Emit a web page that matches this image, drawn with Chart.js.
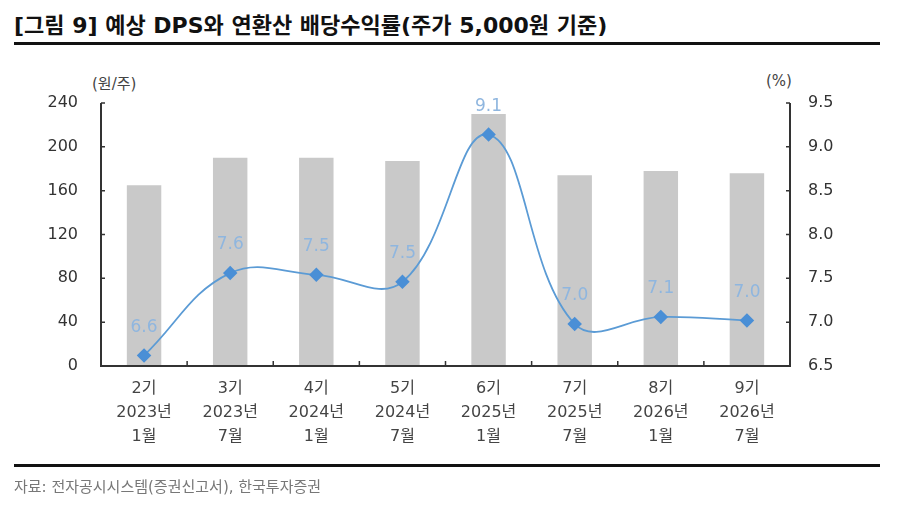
<!DOCTYPE html>
<html>
<head>
<meta charset="utf-8">
<script src="https://cdn.jsdelivr.net/npm/chart.js@4.4.1/dist/chart.umd.min.js"></script>
<style>
  body { margin: 0; background: #fff; }
  #wrap { position: relative; width: 900px; height: 517px; overflow: hidden; }
  #title {
    position: absolute; left: 14px; top: 7px; line-height: 26px;
    font: bold 22px "DejaVu Sans", "Noto Sans CJK KR", sans-serif;
    color: #111; white-space: nowrap;
  }
  .rule { position: absolute; left: 14px; width: 866px; height: 3px; background: #111; }
  #source {
    position: absolute; left: 14px; top: 475px; line-height: 20px;
    font: 15px "DejaVu Sans", "Noto Sans CJK KR", sans-serif; color: #777; white-space: nowrap;
  }
  .unit {
    position: absolute; top: 72px;
    font: 15px "DejaVu Sans", "Noto Sans CJK KR", sans-serif; color: #444;
  }
  #chart { position: absolute; left: 0; top: 0; }
</style>
</head>
<body>
<div id="wrap">
  <div id="title">[그림 9] 예상 DPS와 연환산 배당수익률(주가 5,000원 기준)</div>
  <div class="rule" style="top:42px"></div>
  <div class="unit" style="left:92px">(원/주)</div>
  <div class="unit" style="left:766px">(%)</div>
  <canvas id="chart" width="900" height="517"></canvas>
  <div class="rule" style="top:464px"></div>
  <div id="source">자료: 전자공시시스템(증권신고서), 한국투자증권</div>
</div>
<script>
// categories (회차 / 연도 / 월)
const rounds = ["2기", "3기", "4기", "5기", "6기", "7기", "8기", "9기"];
const years = ["2023년", "2023년", "2024년", "2024년", "2025년", "2025년", "2026년", "2026년"];
const months = ["1월", "7월", "1월", "7월", "1월", "7월", "1월", "7월"];

// 예상 DPS (원/주), left axis
const dps = [165, 190, 190, 187, 230, 174, 178, 176];
// 연환산 배당수익률 (%), right axis
const yieldPct = [6.62, 7.56, 7.54, 7.46, 9.14, 6.98, 7.06, 7.02];

// axis ranges
const dpsTicks = [0, 40, 80, 120, 160, 200, 240];
const yieldTicks = [6.5, 7.0, 7.5, 8.0, 8.5, 9.0, 9.5];

const labels = rounds.map((r, i) => [r, years[i], months[i]]);

const numFont = '"DejaVu Sans", "Noto Sans CJK KR", sans-serif';

// inward tick marks + axis lines
const axisMarks = {
  id: "axisMarks",
  afterDraw(chart) {
    const ctx = chart.ctx;
    const area = chart.chartArea;
    const x = chart.scales.x, yl = chart.scales.y, yr = chart.scales.y1;
    ctx.save();
    ctx.strokeStyle = "#333";
    ctx.lineWidth = 2;
    ctx.beginPath();
    ctx.moveTo(area.left, area.top);
    ctx.lineTo(area.left, area.bottom);
    ctx.lineTo(area.right, area.bottom);
    ctx.lineTo(area.right, area.top);
    ctx.stroke();
    ctx.lineWidth = 1.5;
    ctx.beginPath();
    for (let i = 0; i < labels.length - 1; i++) {
      const px = (x.getPixelForValue(i) + x.getPixelForValue(i + 1)) / 2;
      ctx.moveTo(px, area.bottom);
      ctx.lineTo(px, area.bottom - 5);
    }
    dpsTicks.forEach(v => {
      const py = yl.getPixelForValue(v);
      ctx.moveTo(area.left, py);
      ctx.lineTo(area.left + 4, py);
    });
    yieldTicks.forEach(v => {
      const py = yr.getPixelForValue(v);
      ctx.moveTo(area.right, py);
      ctx.lineTo(area.right - 4, py);
    });
    ctx.stroke();
    ctx.restore();
  }
};

// value labels above the yield points
const pointLabels = {
  id: "pointLabels",
  afterDatasetsDraw(chart) {
    const ctx = chart.ctx;
    const meta = chart.getDatasetMeta(0);
    ctx.save();
    ctx.font = "17px " + numFont;
    ctx.fillStyle = "#8fb6df";
    ctx.textAlign = "center";
    ctx.textBaseline = "middle";
    meta.data.forEach((pt, i) => {
      ctx.fillText(yieldPct[i].toFixed(1), pt.x, pt.y - 28);
    });
    ctx.restore();
  }
};

new Chart(document.getElementById("chart"), {
  data: {
    labels: labels,
    datasets: [
      {
        type: "line",
        data: yieldPct,
        yAxisID: "y1",
        order: 0,
        borderColor: "#5b9bd5",
        borderWidth: 1.8,
        tension: 0.4,
        pointStyle: "rectRot",
        pointRadius: 6,
        pointBackgroundColor: "#4a8fd6",
        pointBorderColor: "#4a8fd6",
        fill: false,
      },
      {
        type: "bar",
        data: dps,
        yAxisID: "y",
        order: 1,
        backgroundColor: "#c9c9c9",
        barPercentage: 0.4,
        categoryPercentage: 1,
      },
    ],
  },
  plugins: [axisMarks, pointLabels],
  options: {
    responsive: false,
    animation: false,
    layout: { padding: { top: 103, left: 0, right: 0, bottom: 0 } },
    plugins: { legend: { display: false }, tooltip: { enabled: false } },
    scales: {
      x: {
        offset: true,
        grid: { display: false },
        border: { display: false },
        ticks: {
          color: "#444",
          font: { size: 16, family: numFont, lineHeight: 1.5 },
          padding: 3,
          maxRotation: 0,
          autoSkip: false,
        },
        afterFit(s) { s.height = 151; },
      },
      y: {
        position: "left",
        min: 0,
        max: 240,
        afterBuildTicks(s) { s.ticks = dpsTicks.map(v => ({ value: v })); },
        grid: { display: false },
        border: { display: false },
        ticks: { color: "#333", font: { size: 16, family: numFont }, padding: 15 },
        afterFit(s) { s.width = 101; },
      },
      y1: {
        position: "right",
        min: 6.5,
        max: 9.5,
        afterBuildTicks(s) { s.ticks = yieldTicks.map(v => ({ value: v })); },
        grid: { display: false },
        border: { display: false },
        ticks: {
          color: "#333",
          font: { size: 16, family: numFont },
          padding: 10,
          callback: v => v.toFixed(1),
        },
        afterFit(s) { s.width = 110; },
      },
    },
  },
});
</script>
</body>
</html>
